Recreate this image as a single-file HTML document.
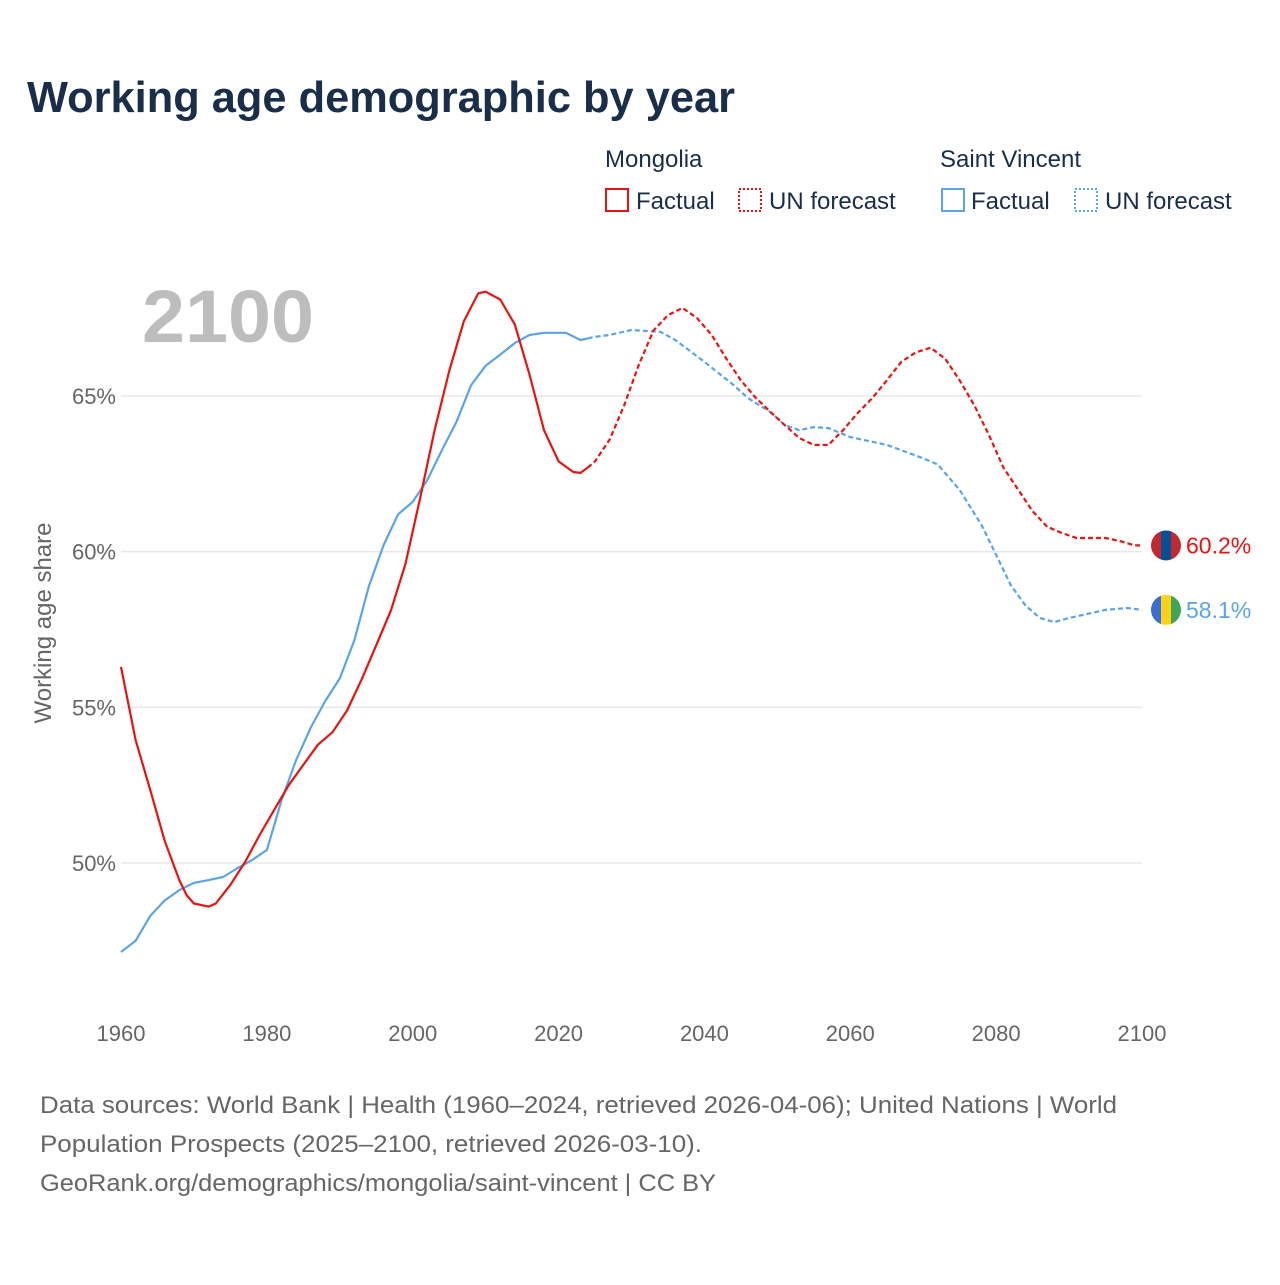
<!DOCTYPE html>
<html><head><meta charset="utf-8"><style>
body{margin:0;background:#fff;font-family:"Liberation Sans",sans-serif;}
svg text{font-family:"Liberation Sans",sans-serif;}
</style></head><body>
<svg id="c" width="1280" height="1280" xmlns="http://www.w3.org/2000/svg">
<rect width="1280" height="1280" fill="#fff"/>
<text x="27" y="112" font-size="44" font-weight="bold" fill="#1a2e4a" textLength="708" lengthAdjust="spacingAndGlyphs">Working age demographic by year</text>
<g fill="#1a2e4a" font-size="24">
<text x="605" y="167">Mongolia</text>
<text x="940" y="167">Saint Vincent</text>
<g><rect x="606" y="189" width="22" height="22" fill="none" stroke="#ee1111" stroke-width="2"/><text x="636" y="209">Factual</text></g>
<g><rect x="739" y="189" width="22" height="22" fill="none" stroke="#ee1111" stroke-width="2" stroke-dasharray="2,2"/><text x="769" y="209">UN forecast</text></g>
<g><rect x="942" y="189" width="22" height="22" fill="none" stroke="#5ba4ea" stroke-width="2"/><text x="971" y="209">Factual</text></g>
<g><rect x="1075" y="189" width="22" height="22" fill="none" stroke="#5ba4ea" stroke-width="2" stroke-dasharray="2,2"/><text x="1105" y="209">UN forecast</text></g>
</g>
<text x="142" y="342" font-size="74" font-weight="bold" fill="#bdbdbd" textLength="172" lengthAdjust="spacingAndGlyphs">2100</text>
<g id="grid"></g><g id="axes"></g><g id="lines"></g>
<text transform="translate(51,623) rotate(-90)" text-anchor="middle" font-size="24" fill="#666">Working age share</text>
<g font-size="24" fill="#666">
<text x="40" y="1113" textLength="1077" lengthAdjust="spacingAndGlyphs">Data sources: World Bank | Health (1960–2024, retrieved 2026-04-06); United Nations | World</text>
<text x="40" y="1152" textLength="662" lengthAdjust="spacingAndGlyphs">Population Prospects (2025–2100, retrieved 2026-03-10).</text>
<text x="40" y="1191" textLength="676" lengthAdjust="spacingAndGlyphs">GeoRank.org/demographics/mongolia/saint-vincent | CC BY</text>
</g>
</svg>
<script>
const yTicks=[50,55,60,65];
const xTicks=[1960,1980,2000,2020,2040,2060,2080,2100];
const mnYears=[1960,1962,1964,1966,1968,1969,1970,1972,1973,1975,1977,1979,1981,1983,1985,1987,1989,1991,1993,1995,1997,1999,2001,2003,2005,2007,2009,2010,2012,2014,2016,2018,2020,2022,2023,2024,2025,2027,2029,2031,2033,2035,2037,2039,2041,2043,2045,2047,2049,2051,2053,2055,2057,2059,2061,2063,2065,2067,2069,2071,2073,2075,2077,2079,2081,2083,2085,2087,2089,2091,2095,2097,2099,2100];
const mnVals=[56.3,53.95,52.35,50.7,49.45,48.97,48.7,48.6,48.7,49.3,50.03,50.9,51.7,52.5,53.15,53.8,54.2,54.9,55.9,57.0,58.1,59.6,61.7,63.9,65.8,67.4,68.3,68.35,68.1,67.3,65.7,63.9,62.9,62.56,62.53,62.7,62.9,63.6,64.7,66.0,67.1,67.6,67.83,67.5,66.96,66.2,65.5,64.95,64.5,64.07,63.65,63.43,63.43,63.9,64.45,64.93,65.5,66.1,66.4,66.55,66.2,65.5,64.7,63.75,62.7,62.0,61.3,60.8,60.6,60.44,60.44,60.34,60.2,60.2];
const svYears=[1960,1962,1964,1966,1968,1970,1972,1974,1976,1978,1980,1982,1984,1986,1988,1990,1992,1994,1996,1998,2000,2002,2004,2006,2008,2010,2012,2014,2016,2018,2021,2023,2024,2025,2027,2030,2034,2036,2040,2044,2046,2049,2051,2053,2055,2057,2060,2065,2070,2072,2075,2078,2080,2082,2084,2086,2088,2090,2095,2098,2100];
const svVals=[47.14,47.5,48.3,48.8,49.13,49.36,49.45,49.55,49.84,50.1,50.42,52.0,53.3,54.34,55.2,55.93,57.16,58.9,60.2,61.2,61.6,62.3,63.26,64.17,65.35,65.97,66.33,66.7,66.96,67.03,67.03,66.8,66.85,66.9,66.96,67.12,67.06,66.8,66.1,65.35,64.93,64.49,64.07,63.9,64.0,63.97,63.68,63.43,63.0,62.8,61.98,60.85,59.9,58.93,58.28,57.87,57.74,57.87,58.13,58.19,58.13];
const NS="http://www.w3.org/2000/svg";
const X=y=>121+(y-1960)*(1021/140);
const Y=v=>863-(v-50)*(467/15);
function mk(t,a,p){const e=document.createElementNS(NS,t);for(const k in a)e.setAttribute(k,a[k]);p.appendChild(e);return e;}
const grid=document.getElementById('grid'),axes=document.getElementById('axes'),lines=document.getElementById('lines');
yTicks.forEach(v=>{
 const l=mk('line',{x1:121,x2:1142,y1:Y(v),y2:Y(v),stroke:'#e8e8e8','stroke-width':1.5},grid);
 
 
 const t=mk('text',{x:116,y:Y(v)+8,'text-anchor':'end','font-size':22,fill:'#666'},axes);t.textContent=v+'%';
 
 
});
xTicks.forEach(v=>{
 const t=mk('text',{x:X(v),y:1041,'text-anchor':'middle','font-size':22,fill:'#666'},axes);t.textContent=v;
 
 
});
function series(ys,vs,col,name){
 const f=[],u=[];
 ys.forEach((y,i)=>{const p=X(y).toFixed(1)+','+Y(vs[i]).toFixed(1);if(y<=2024)f.push(p);if(y>=2024)u.push(p);});
 const a=mk('polyline',{points:f.join(' '),fill:'none',stroke:col,'stroke-width':2.2,'stroke-linejoin':'round'},lines);
 
 
 const b=mk('polyline',{points:u.join(' '),fill:'none',stroke:col,'stroke-width':2.2,'stroke-dasharray':'5,3'},lines);
 
 
}
series(svYears,svVals,'#5ba4ea','saint-vincent');
series(mnYears,mnVals,'#ee1111','mongolia');
function flag(v,cols,name,col){
 const cy=Y(v),cx=1166;
 const g=mk('g',{},lines);
 
 
 const cid='clip'+name;
 const cp=mk('clipPath',{id:cid},g);mk('circle',{cx:cx,cy:cy,r:15},cp);
 const gg=mk('g',{'clip-path':'url(#'+cid+')'},g);
 cols.forEach((c,i)=>mk('rect',{x:cx-15+i*10,y:cy-15,width:10,height:30,fill:c},gg));
 const t=mk('text',{x:1186,y:cy+8,'font-size':23,fill:col},lines);t.textContent=v.toFixed(1)+'%';
 
 
}
flag(mnVals[mnVals.length-1],['#c4272f','#015197','#c4272f'],'mongolia','#ee1111');
flag(svVals[svVals.length-1],['#3a6fd1','#fcd116','#3fa35a'],'saint-vincent','#5ba4ea');
</script>
</body></html>
